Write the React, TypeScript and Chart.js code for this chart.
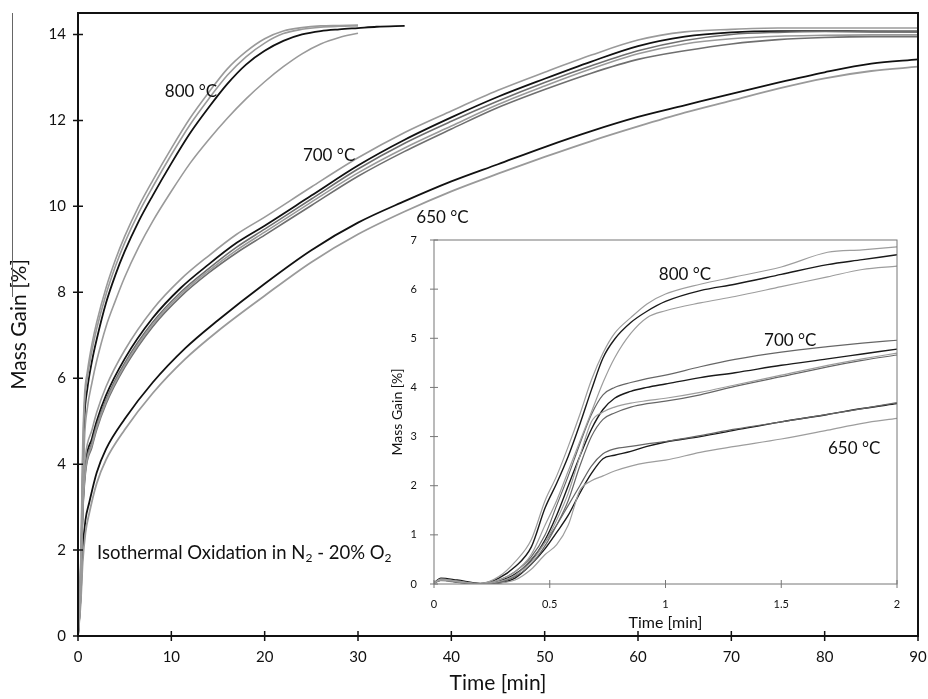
import React, { useEffect, useRef } from "react";
import { Chart, registerables } from "chart.js";

Chart.register(...registerables);

const FONT = 'Lato, "Open Sans", "DejaVu Sans", sans-serif';

// ---------- tick labels ----------
const mainXTicks = [0, 10, 20, 30, 40, 50, 60, 70, 80, 90];
const mainYTicks = [0, 2, 4, 6, 8, 10, 12, 14];
const insetXTicks = [0, 0.5, 1, 1.5, 2];
const insetYTicks = [0, 1, 2, 3, 4, 5, 6, 7];

// ---------- main chart: 800 °C ----------
const t800 = [0, 0.3, 0.5, 0.7, 1, 1.5, 2, 3, 4, 5, 6.5, 8, 10, 12, 14, 16, 18, 20, 22, 24, 26, 28, 30];
const m800A = [0, 1.8, 4.4, 5.6, 6.15, 6.8, 7.3, 8.1, 8.75, 9.3, 10.0, 10.6, 11.35, 12.05, 12.65, 13.2, 13.6, 13.9, 14.08, 14.16, 14.2, 14.21, 14.22];
const m800B = [0, 1.6, 4.1, 5.4, 6.0, 6.65, 7.15, 7.95, 8.6, 9.15, 9.85, 10.45, 11.2, 11.9, 12.5, 13.05, 13.48, 13.8, 14.02, 14.12, 14.17, 14.19, 14.2];
const m800C = [0, 1.0, 3.0, 4.6, 5.3, 5.9, 6.4, 7.2, 7.8, 8.35, 9.05, 9.65, 10.35, 11.0, 11.55, 12.05, 12.5, 12.9, 13.25, 13.55, 13.78, 13.93, 14.03];
const t800k = [0, 0.3, 0.5, 0.7, 1, 1.5, 2, 3, 4, 5, 6.5, 8, 10, 12, 14, 16, 18, 20, 22, 24, 26, 28, 30, 32, 35];
const m800K = [0, 1.2, 3.6, 5.1, 5.75, 6.4, 6.9, 7.75, 8.4, 8.95, 9.65, 10.25, 11.0, 11.7, 12.3, 12.85, 13.3, 13.62, 13.85, 14.0, 14.08, 14.12, 14.15, 14.18, 14.2];

// ---------- main chart: 700 °C ----------
const t700 = [0, 0.3, 0.5, 0.8, 1.5, 2, 3, 5, 8, 11, 14, 17, 20, 25, 30, 35, 40, 45, 50, 55, 60, 65, 70, 75, 80, 85, 90];
const m700K = [0, 1.5, 3.0, 4.0, 4.6, 5.0, 5.6, 6.45, 7.4, 8.1, 8.65, 9.15, 9.55, 10.25, 10.95, 11.55, 12.07, 12.55, 12.97, 13.37, 13.73, 13.95, 14.05, 14.08, 14.08, 14.07, 14.07];
const m700Top = [0, 1.7, 3.3, 4.2, 4.8, 5.2, 5.8, 6.65, 7.6, 8.3, 8.85, 9.35, 9.75, 10.45, 11.13, 11.72, 12.22, 12.7, 13.12, 13.52, 13.87, 14.06, 14.12, 14.15, 14.15, 14.15, 14.15];
const m700Mid = [0, 1.4, 2.9, 3.9, 4.5, 4.9, 5.5, 6.35, 7.3, 8.0, 8.55, 9.05, 9.47, 10.17, 10.87, 11.47, 11.98, 12.45, 12.88, 13.27, 13.62, 13.86, 14.0, 14.05, 14.07, 14.07, 14.06];
const m700Low = [0, 1.3, 2.8, 3.8, 4.4, 4.8, 5.4, 6.25, 7.2, 7.9, 8.45, 8.92, 9.33, 10.02, 10.7, 11.28, 11.8, 12.3, 12.72, 13.1, 13.42, 13.62, 13.78, 13.88, 13.93, 13.95, 13.95];
const m700Low2 = [0, 1.35, 2.85, 3.85, 4.45, 4.85, 5.45, 6.3, 7.25, 7.95, 8.5, 8.98, 9.4, 10.1, 10.78, 11.36, 11.87, 12.37, 12.8, 13.2, 13.55, 13.78, 13.9, 13.96, 13.98, 13.99, 13.99];

// ---------- main chart: 650 °C ----------
const t650 = [0, 0.3, 0.5, 0.8, 1.2, 2, 3, 5, 8, 11.5, 15, 20, 25, 30, 35, 40, 45, 50, 55, 60, 65, 70, 75, 80, 85, 90];
const m650K = [0, 1.0, 2.0, 2.7, 3.1, 3.8, 4.35, 5.05, 5.9, 6.7, 7.35, 8.2, 8.98, 9.62, 10.12, 10.58, 10.98, 11.38, 11.75, 12.08, 12.35, 12.62, 12.88, 13.12, 13.32, 13.42];
const m650G = [0, 0.8, 1.7, 2.4, 2.85, 3.55, 4.1, 4.8, 5.65, 6.45, 7.1, 7.92, 8.7, 9.35, 9.88, 10.35, 10.76, 11.15, 11.52, 11.86, 12.18, 12.46, 12.74, 12.98, 13.15, 13.25];

// ---------- inset (first 2 minutes) ----------
const tInset = [0, 0.03, 0.1, 0.2, 0.28, 0.35, 0.42, 0.48, 0.53, 0.58, 0.63, 0.68, 0.73, 0.78, 0.85, 0.92, 1.0, 1.15, 1.3, 1.5, 1.7, 1.85, 2.0];
const i800Black = [0.02, 0.12, 0.08, 0.01, 0.12, 0.35, 0.75, 1.55, 2.05, 2.6, 3.25, 3.95, 4.6, 4.98, 5.32, 5.55, 5.75, 5.97, 6.1, 6.3, 6.5, 6.6, 6.7];
const i800Upper = [0.02, 0.1, 0.06, 0.01, 0.15, 0.45, 0.9, 1.7, 2.2, 2.8, 3.45, 4.15, 4.7, 5.1, 5.42, 5.7, 5.9, 6.1, 6.25, 6.45, 6.75, 6.8, 6.86];
const i800Lower = [0.02, 0.08, 0.05, 0.0, 0.08, 0.25, 0.6, 1.2, 1.7, 2.3, 2.9, 3.5, 4.1, 4.6, 5.1, 5.42, 5.56, 5.72, 5.85, 6.05, 6.25, 6.4, 6.47];
const i700Top = [0.02, 0.1, 0.06, 0.01, 0.08, 0.25, 0.55, 1.0, 1.6, 2.2, 2.85, 3.45, 3.85, 4.0, 4.1, 4.18, 4.25, 4.42, 4.57, 4.72, 4.83, 4.9, 4.96];
const i700Black = [0.02, 0.1, 0.05, 0.0, 0.06, 0.2, 0.48, 0.9, 1.4, 2.0, 2.6, 3.15, 3.55, 3.78, 3.92, 4.0, 4.07, 4.2, 4.3, 4.45, 4.58, 4.68, 4.78];
const i700GrayA = [0.02, 0.09, 0.05, 0.0, 0.05, 0.18, 0.45, 0.85, 1.3, 1.85, 2.6, 3.3, 3.5, 3.6, 3.68, 3.73, 3.78, 3.9, 4.05, 4.25, 4.45, 4.58, 4.7];
const i700GrayB = [0.02, 0.08, 0.04, 0.0, 0.04, 0.15, 0.4, 0.78, 1.2, 1.7, 2.4, 3.0, 3.35, 3.48, 3.6, 3.67, 3.72, 3.85, 4.02, 4.22, 4.42, 4.55, 4.66];
const i650Black = [0.02, 0.08, 0.04, 0.0, 0.02, 0.12, 0.4, 0.72, 1.05, 1.4, 1.85, 2.25, 2.55, 2.62, 2.7, 2.8, 2.89, 3.0, 3.13, 3.3, 3.45, 3.57, 3.67];
const i650Upper = [0.02, 0.08, 0.04, 0.0, 0.03, 0.18, 0.5, 0.85, 1.2, 1.6, 2.0, 2.4, 2.65, 2.75, 2.8, 2.85, 2.9, 3.02, 3.15, 3.3, 3.45, 3.57, 3.69];
const i650Lower = [0.02, 0.07, 0.03, 0.0, 0.02, 0.08, 0.3, 0.6, 0.8, 1.2, 1.9, 2.1, 2.2, 2.3, 2.4, 2.47, 2.52, 2.68, 2.8, 2.95, 3.13, 3.27, 3.37];

// ---------- text labels (data coordinates) ----------
const mainLabels = [
  { text: "800 °C", x: 12.1, y: 12.67 },
  { text: "700 °C", x: 26.9, y: 11.19 },
  { text: "650 °C", x: 39.05, y: 9.74 },
];
const insetLabels = [
  { text: "800 °C", x: 1.084, y: 6.29 },
  { text: "700 °C", x: 1.539, y: 4.95 },
  { text: "650 °C", x: 1.815, y: 2.76 },
];
const noteParts = [
  { s: "Isothermal Oxidation in N", sub: false },
  { s: "2", sub: true },
  { s: " - 20% O", sub: false },
  { s: "2", sub: true },
];
const notePos = { x: 2.04, y: 1.93 };

const pts = (t: number[], v: number[]) => t.map((x, i) => ({ x, y: v[i] }));

const line = (data: { x: number; y: number }[], color: string, width: number) => ({
  data,
  borderColor: color,
  borderWidth: width,
  pointRadius: 0,
  fill: false,
  cubicInterpolationMode: "monotone" as const,
});

const framePlugin = {
  id: "frame",
  afterDraw(chart: any, _args: any, opts: any) {
    const { ctx, chartArea: a, scales } = chart;
    ctx.save();
    ctx.strokeStyle = opts.color;
    ctx.lineWidth = opts.width;
    ctx.strokeRect(a.left, a.top, a.right - a.left, a.bottom - a.top);
    ctx.lineWidth = opts.tickWidth;
    ctx.beginPath();
    const L = opts.tickLen;
    scales.x.ticks.forEach((t: any) => {
      const px = scales.x.getPixelForValue(t.value);
      ctx.moveTo(px, a.bottom - L);
      ctx.lineTo(px, a.bottom + L);
    });
    scales.y.ticks.forEach((t: any) => {
      const py = scales.y.getPixelForValue(t.value);
      ctx.moveTo(a.left - L, py);
      ctx.lineTo(a.left + L, py);
    });
    ctx.stroke();
    if (opts.sideLine) {
      ctx.strokeStyle = "#666";
      ctx.lineWidth = 1;
      ctx.beginPath();
      ctx.moveTo(12.5, a.top);
      ctx.lineTo(12.5, 297);
      ctx.stroke();
    }
    ctx.restore();
  },
};

const textPlugin = {
  id: "texts",
  afterDatasetsDraw(chart: any, _args: any, opts: any) {
    const { ctx, scales } = chart;
    ctx.save();
    ctx.fillStyle = "#111";
    ctx.textBaseline = "middle";
    ctx.font = `${opts.size}px ${FONT}`;
    ctx.textAlign = "center";
    (opts.items || []).forEach((it: any) => {
      ctx.fillText(it.text, scales.x.getPixelForValue(it.x), scales.y.getPixelForValue(it.y));
    });
    if (opts.parts) {
      let px = scales.x.getPixelForValue(opts.partsPos.x);
      const py = scales.y.getPixelForValue(opts.partsPos.y);
      ctx.textAlign = "left";
      opts.parts.forEach((p: any) => {
        const size = p.sub ? opts.partsSize * 0.65 : opts.partsSize;
        ctx.font = `${size}px ${FONT}`;
        ctx.fillText(p.s, px, p.sub ? py + opts.partsSize * 0.28 : py);
        px += ctx.measureText(p.s).width;
      });
    }
    ctx.restore();
  },
};

const fitX = (h: number) => (s: any) => {
  s.height = h;
  s.paddingLeft = 0;
  s.paddingRight = 0;
};
const fitY = (w: number) => (s: any) => {
  s.width = w;
  s.paddingTop = 0;
  s.paddingBottom = 0;
};

export default function App() {
  const mainRef = useRef<HTMLCanvasElement>(null);
  const insetRef = useRef<HTMLCanvasElement>(null);

  useEffect(() => {
    const BLACK = "#111";
    const GRAY = "#9a9a9a";
    const DGRAY = "#6f6f6f";

    const main = new Chart(mainRef.current!, {
      type: "line",
      data: {
        datasets: [
          line(pts(t800, m800A), GRAY, 1.6),
          line(pts(t800, m800B), GRAY, 1.6),
          line(pts(t800, m800C), GRAY, 1.6),
          line(pts(t700, m700Top), GRAY, 1.6),
          line(pts(t700, m700Low2), GRAY, 1.6),
          line(pts(t700, m700Low), DGRAY, 1.6),
          line(pts(t700, m700Mid), DGRAY, 1.6),
          line(pts(t650, m650G), GRAY, 1.8),
          line(pts(t800k, m800K), BLACK, 1.8),
          line(pts(t700, m700K), BLACK, 1.8),
          line(pts(t650, m650K), BLACK, 1.8),
        ],
      },
      options: {
        animation: false,
        responsive: false,
        layout: { padding: { left: 0, right: 10, top: 13, bottom: 0 } },
        plugins: {
          legend: { display: false },
          tooltip: { enabled: false },
          frame: { color: "#111", width: 2, tickWidth: 1.5, tickLen: 5, sideLine: true },
          texts: { size: 17, items: mainLabels, parts: noteParts, partsPos: notePos, partsSize: 18.5 },
        } as any,
        scales: {
          x: {
            type: "linear",
            min: 0,
            max: 90,
            afterBuildTicks: (s: any) => {
              s.ticks = mainXTicks.map((value) => ({ value }));
            },
            afterFit: fitX(63),
            grid: { display: false, drawTicks: false },
            border: { display: false },
            ticks: {
              color: "#111",
              padding: 12,
              maxRotation: 0,
              autoSkip: false,
              font: { family: FONT, size: 15 },
              callback: (v: any) => String(v),
            },
            title: {
              display: true,
              text: "Time [min]",
              color: "#111",
              font: { family: FONT, size: 21 },
              padding: { top: 0, bottom: 3 },
            },
          },
          y: {
            type: "linear",
            min: 0,
            max: 14.5,
            afterBuildTicks: (s: any) => {
              s.ticks = mainYTicks.map((value) => ({ value }));
            },
            afterFit: fitY(78),
            grid: { display: false, drawTicks: false },
            border: { display: false },
            ticks: {
              color: "#111",
              padding: 12,
              autoSkip: false,
              font: { family: FONT, size: 15 },
              callback: (v: any) => String(v),
            },
            title: {
              display: true,
              text: "Mass Gain [%]",
              color: "#111",
              font: { family: FONT, size: 21 },
              padding: { top: 7, bottom: 0 },
            },
          },
        },
      },
      plugins: [framePlugin, textPlugin],
    } as any);

    const IB = "#1a1a1a";
    const IG = "#9d9d9d";
    const IDG = "#666";
    const inset = new Chart(insetRef.current!, {
      type: "line",
      data: {
        datasets: [
          line(pts(tInset, i800Upper), IG, 1.2),
          line(pts(tInset, i800Lower), IG, 1.2),
          line(pts(tInset, i700Top), IDG, 1.2),
          line(pts(tInset, i700GrayA), IG, 1.2),
          line(pts(tInset, i700GrayB), IDG, 1.2),
          line(pts(tInset, i650Upper), IDG, 1.2),
          line(pts(tInset, i650Lower), IG, 1.2),
          line(pts(tInset, i800Black), IB, 1.4),
          line(pts(tInset, i700Black), IB, 1.4),
          line(pts(tInset, i650Black), IB, 1.4),
        ],
      },
      options: {
        animation: false,
        responsive: false,
        layout: { padding: { left: 0, right: 8, top: 12, bottom: 0 } },
        plugins: {
          legend: { display: false },
          tooltip: { enabled: false },
          frame: { color: "#777", width: 1, tickWidth: 1, tickLen: 4, sideLine: false },
          texts: { size: 17, items: insetLabels },
        } as any,
        scales: {
          x: {
            type: "linear",
            min: 0,
            max: 2,
            afterBuildTicks: (s: any) => {
              s.ticks = insetXTicks.map((value) => ({ value }));
            },
            afterFit: fitX(48),
            grid: { display: false, drawTicks: false },
            border: { display: false },
            ticks: {
              color: "#111",
              padding: 14,
              maxRotation: 0,
              autoSkip: false,
              font: { family: FONT, size: 11 },
              callback: (v: any) => String(v),
            },
            title: {
              display: true,
              text: "Time [min]",
              color: "#111",
              font: { family: FONT, size: 16 },
              padding: { top: 0, bottom: 0 },
            },
          },
          y: {
            type: "linear",
            min: 0,
            max: 7,
            afterBuildTicks: (s: any) => {
              s.ticks = insetYTicks.map((value) => ({ value }));
            },
            afterFit: fitY(49),
            grid: { display: false, drawTicks: false },
            border: { display: false },
            ticks: {
              color: "#111",
              padding: 17,
              autoSkip: false,
              font: { family: FONT, size: 11 },
              callback: (v: any) => String(v),
            },
            title: {
              display: true,
              text: "Mass Gain [%]",
              color: "#111",
              font: { family: FONT, size: 14 },
              padding: { top: 4, bottom: 0 },
            },
          },
        },
      },
      plugins: [framePlugin, textPlugin],
    } as any);

    return () => {
      main.destroy();
      inset.destroy();
    };
  }, []);

  return (
    <div style={{ position: "fixed", left: 0, top: 0, width: 928, height: 699, background: "#fff" }}>
      <canvas ref={mainRef} width={928} height={699} style={{ position: "absolute", left: 0, top: 0 }} />
      <canvas
        ref={insetRef}
        width={520}
        height={404}
        style={{ position: "absolute", left: 385, top: 228 }}
      />
    </div>
  );
}
